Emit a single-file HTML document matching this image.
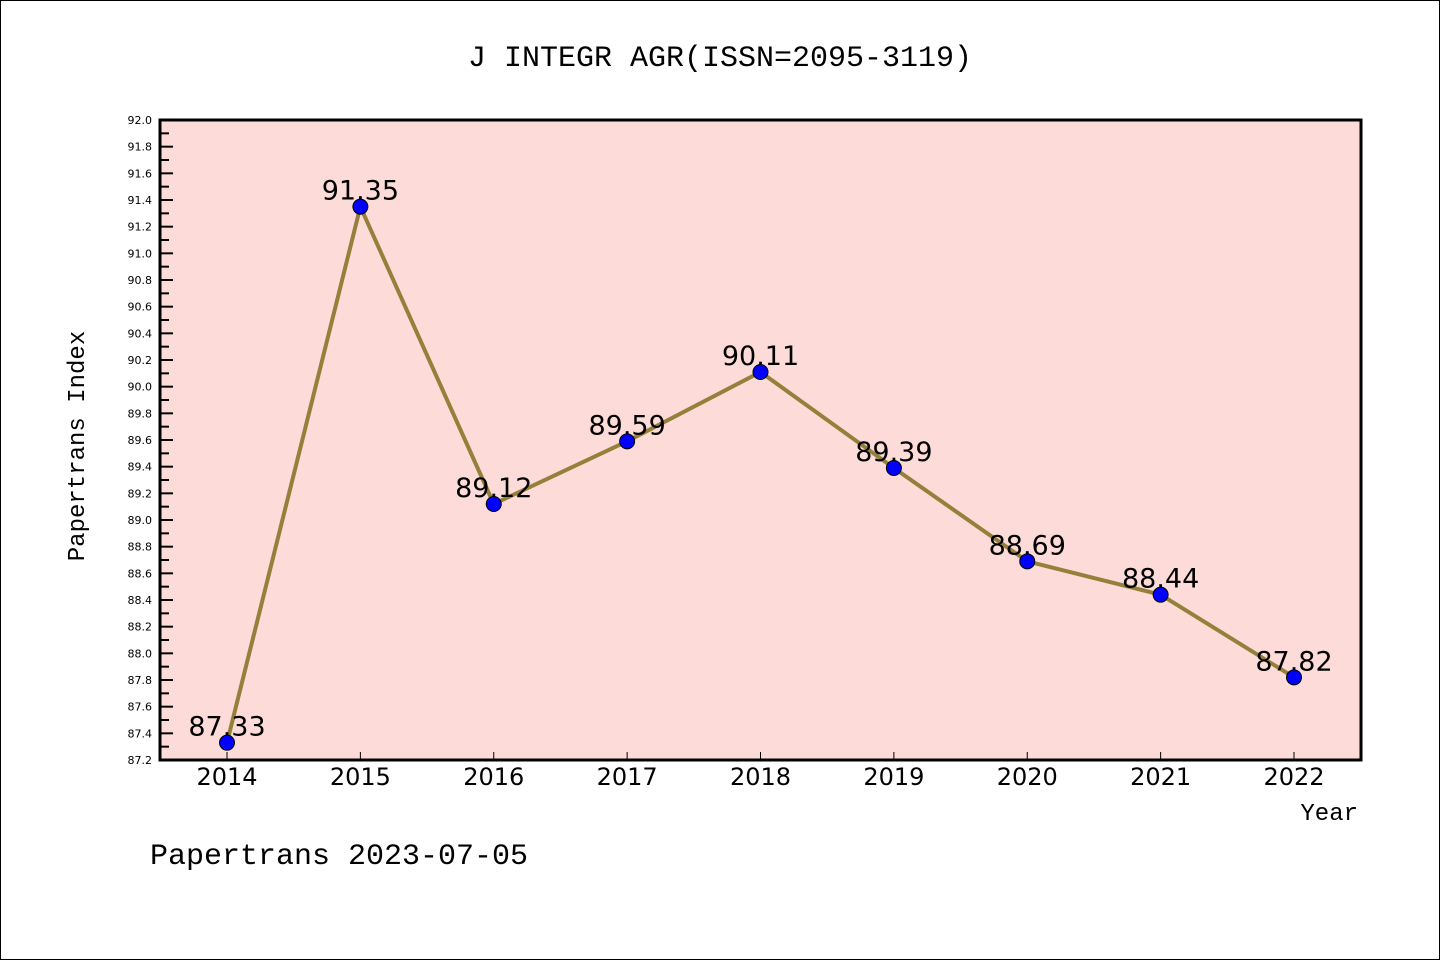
<!DOCTYPE html>
<html><head><meta charset="utf-8"><style>
html,body{margin:0;padding:0;background:#fff}
svg{display:block}
text{font-family:"Liberation Mono","DejaVu Sans Mono",monospace}
</style></head><body>
<svg id="chart" width="1440" height="960">
<rect x="0.5" y="0.5" width="1439" height="959" fill="#fff" stroke="#000"/>
<text x="720" y="66" text-anchor="middle" font-size="30">J INTEGR AGR(ISSN=2095-3119)</text>
<rect x="160" y="120" width="1201" height="640" fill="#fddbd8"/>
<g id="yaxis"></g>
<g id="xaxis"></g>
<g id="series"></g>
<rect x="160" y="120" width="1201" height="640" fill="none" stroke="#000" stroke-width="3"/>
<text transform="translate(84,446) rotate(-90)" text-anchor="middle" font-size="24">Papertrans Index</text>
<text x="1358" y="820" text-anchor="end" font-size="24">Year</text>
<text x="150" y="864" font-size="30">Papertrans 2023-07-05</text>
</svg>
<script>
const years = [2014,2015,2016,2017,2018,2019,2020,2021,2022];
const values = [87.33,91.35,89.12,89.59,90.11,89.39,88.69,88.44,87.82];
const yTicks = [87.2,87.4,87.6,87.8,88.0,88.2,88.4,88.6,88.8,89.0,89.2,89.4,89.6,89.8,90.0,90.2,90.4,90.6,90.8,91.0,91.2,91.4,91.6,91.8,92.0];
const NS='http://www.w3.org/2000/svg';
const yMin=87.2,yMax=92.0,yTop=120,yBot=760;
function y(v){return yBot-(v-yMin)/(yMax-yMin)*(yBot-yTop);}
function x(yr){return 227+(yr-2014)*133.375;}
function mk(tag,attrs,parent,txt){const e=document.createElementNS(NS,tag);for(const k in attrs)e.setAttribute(k,attrs[k]);if(txt!==undefined)e.textContent=txt;parent.appendChild(e);return e;}
const ya=document.getElementById('yaxis'),xa=document.getElementById('xaxis'),sg=document.getElementById('series');
yTicks.forEach((t,i)=>{
  const l=mk('line',{x1:160,x2:173,y1:y(t),y2:y(t),stroke:'#000','stroke-width':2},ya);
  
  
  const tx=mk('text',{x:152,y:y(t)+4,'text-anchor':'end','font-size':11,style:'font-family:"DejaVu Sans",sans-serif'},ya,t.toFixed(1));
  
  
  if(i<yTicks.length-1){
    const m=mk('line',{x1:160,x2:169,y1:y(t+0.1),y2:y(t+0.1),stroke:'#000','stroke-width':2},ya);
    
    
  }
});
years.forEach(yr=>{
  const l=mk('line',{x1:x(yr),x2:x(yr),y1:752,y2:760,stroke:'#000','stroke-width':1},xa);
  
  
  const t=mk('text',{x:x(yr),y:785,'text-anchor':'middle','font-size':24,style:'font-family:"DejaVu Sans",sans-serif'},xa,yr);
  
  
});
const pts=years.map((yr,i)=>x(yr)+','+y(values[i])).join(' ');
const pl=mk('polyline',{points:pts,fill:'none',stroke:'#94803a','stroke-width':4,'stroke-linejoin':'round'},sg);


years.forEach((yr,i)=>{
  const c=mk('circle',{cx:x(yr),cy:y(values[i]),r:7.5,fill:'#0000ff',stroke:'#000','stroke-width':1},sg);
  
  
  const t=mk('text',{x:x(yr),y:y(values[i])-7,'text-anchor':'middle','font-size':27,style:'font-family:"DejaVu Sans",sans-serif'},sg,values[i].toFixed(2));
  
  
});
</script>
</body></html>
